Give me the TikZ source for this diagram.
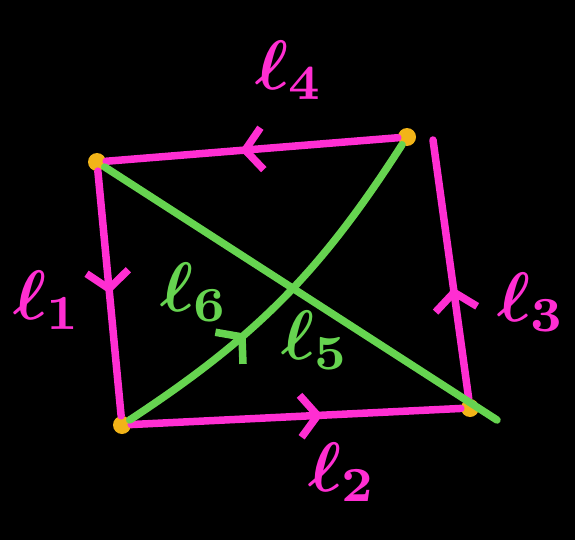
\documentclass[tikz,border=0pt]{standalone}
\usetikzlibrary{arrows.meta, positioning, decorations.markings}
\definecolor{cSide}{HTML}{FF2ED2}
\definecolor{cDiag}{HTML}{66D450}
\definecolor{cDot} {HTML}{F2B418}
\newcommand{\lineell}[1]{\scalebox{7}{\boldmath$\ell_{#1}$}}

\begin{document}
\begin{tikzpicture}[x=1pt, y=-1pt,
    vert/.style = {circle, fill=cDot, inner sep=0pt, minimum size=18pt},
    sideline/.style = {cSide, line width=7.5pt, line cap=round},
    diagline/.style = {cDiag, line width=7.5pt, line cap=round},
    lab/.style = {inner sep=0pt},
    midarrow/.style = {postaction={decorate}, decoration={markings,
        mark=at position #1 with {\arrow{Straight Barb[length=17pt, width=42pt]}}}} ]
  \useasboundingbox (0,0) rectangle (575,540);
  \fill[black] (0,0) rectangle (575,540);

  % corners
  \node[vert] (v1) at (97,162) {};
  \node[vert] (v2) at (407,137) {};
  \node[vert] (v3) at (470,408) {};
  \node[vert] (v4) at (122,425) {};
  \coordinate (r3top) at (433,140);
  \coordinate (d5end) at (497,420);

  % sides
  \draw[sideline, midarrow=0.54] (v2) -- (v1);
  \draw[sideline, midarrow=0.5] (v1) -- (v4);
  \draw[sideline, midarrow=0.58] (v4) -- (v3);
  \draw[sideline, midarrow=0.43] (v3) -- (r3top);

  % diagonals
  \draw[diagline] (v1) -- (d5end);
  \draw[diagline, midarrow=0.37] (v4) to[bend right=12] (v2);

  % labels
  \node[lab, text=cSide] (l4) at (290,70) {\lineell{4}};
  \node[lab, text=cSide] (l1) at (48,300) {\lineell{1}};
  \node[lab, text=cDiag] (l6) at (195,292) {\lineell{6}};
  \node[lab, text=cDiag] (l5) at (316,340) {\lineell{5}};
  \node[lab, text=cSide] (l3) at (532,302) {\lineell{3}};
  \node[lab, text=cSide] (l2) at (343,472) {\lineell{2}};
\end{tikzpicture}
\end{document}
